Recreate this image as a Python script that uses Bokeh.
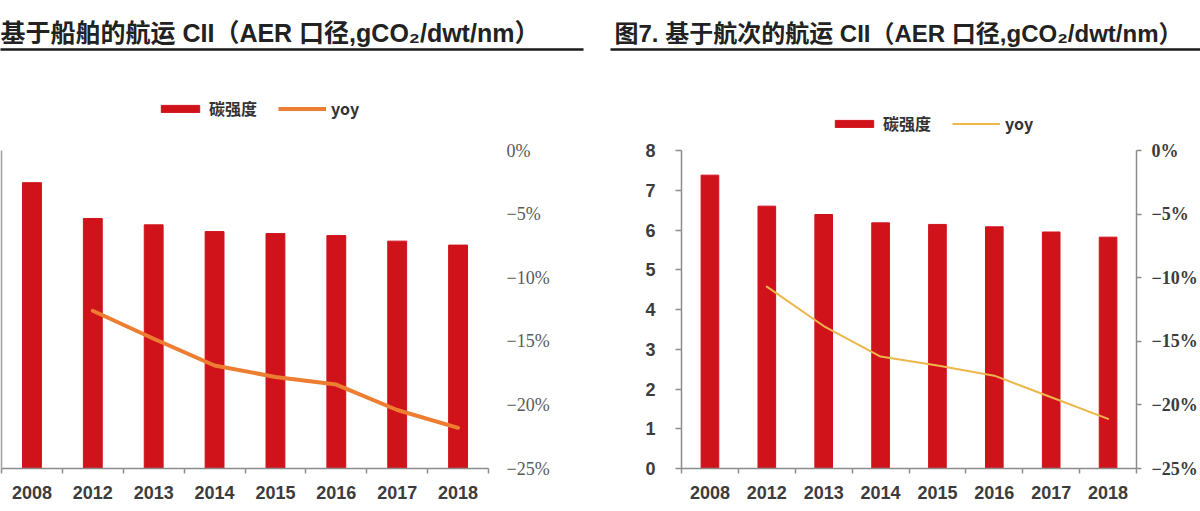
from bokeh.plotting import figure
from bokeh.models import (ColumnDataSource, Range1d, LinearAxis, FixedTicker,
                          Legend, LegendItem)
from bokeh.layouts import column, row
from bokeh.embed import file_html
from bokeh.resources import INLINE

# ---------------- data ----------------
years = ["2008", "2012", "2013", "2014", "2015", "2016", "2017", "2018"]
ship_cii = [7.19, 6.29, 6.13, 5.96, 5.91, 5.86, 5.72, 5.62]
ship_yoy = [float("nan"), -12.6, -14.8, -16.9, -17.8, -18.4, -20.4, -21.8]
voyage_cii = [7.38, 6.60, 6.39, 6.18, 6.14, 6.08, 5.95, 5.82]
voyage_yoy = [float("nan"), -10.7, -13.8, -16.2, -16.9, -17.7, -19.4, -21.1]
cii_ticks = [0, 1, 2, 3, 4, 5, 6, 7, 8]
yoy_ticks = [-25, -20, -15, -10, -5, 0]
title_left = "基于船舶的航运 CII（AER 口径,gCO₂/dwt/nm）"
title_right = "图7. 基于航次的航运 CII（AER 口径,gCO₂/dwt/nm）"
legend_bar = "碳强度"
legend_line = "yoy"

BAR_RED = "#D0121B"
ORANGE = "#ED7D31"
GOLD = "#EDB64A"
AXIS_GRAY = "#8C8C8C"
CJK = "Noto Sans CJK SC"
MIXED = "'Liberation Sans', 'Noto Sans CJK SC'"
BAR_W = 0.31

xs = list(range(len(years)))
bounds = [i - 0.5 for i in range(len(years) + 1)]
yoy_labels = {t: (f"{t}%".replace("-", "\u2212")) for t in yoy_ticks}

HEADER_H = 138
CHART_H = 373
HALF_W = 600


def header(src, text, font_size, left_border, right_border, offset, line_color,
           line_width, legend_xy):
    """Title + underline + legend. The data glyphs here sit outside the visible
    range; they only serve as legend swatches."""
    h = figure(width=HALF_W, height=HEADER_H, x_range=Range1d(0, 1),
               y_range=Range1d(100, 101),
               x_axis_type=None, y_axis_type=None, toolbar_location=None,
               output_backend="svg", outline_line_color=None,
               min_border_left=left_border, min_border_right=right_border,
               min_border_top=49, min_border_bottom=0, title=text)
    h.title.text_font = MIXED
    h.title.text_font_size = font_size
    h.title.text_font_style = "bold"
    h.title.text_color = "#222222"
    h.title.align = "left"
    h.title.offset = offset
    h.title.standoff = 6
    ax = LinearAxis(ticker=FixedTicker(ticks=[]), axis_line_color="#1A1A1A",
                    axis_line_width=2.5, major_tick_line_color=None,
                    minor_tick_line_color=None, major_tick_out=0, major_tick_in=0,
                    minor_tick_out=0, minor_tick_in=0, major_label_standoff=0)
    h.add_layout(ax, "above")

    sw_bar = h.vbar(x="x", top="cii", width=BAR_W, source=src,
                    fill_color=BAR_RED, line_color=BAR_RED)
    sw_line = h.line(x="x", y="yoy", source=src, line_color=line_color,
                     line_width=line_width)
    legend = Legend(items=[LegendItem(label=legend_bar, renderers=[sw_bar]),
                           LegendItem(label=legend_line, renderers=[sw_line])],
                    orientation="horizontal", location=legend_xy,
                    glyph_width=48, glyph_height=9, label_standoff=5, spacing=21,
                    padding=0, margin=0, border_line_color=None,
                    background_fill_alpha=0,
                    label_text_font=CJK, label_text_font_style="bold",
                    label_text_font_size="16px", label_text_color="#333333",
                    label_height=20)
    h.add_layout(legend, "center")
    return h


def chart(src, line_color, line_width, left_labels, right_style, borders):
    left_b, right_b, top_b, bottom_b = borders
    p = figure(width=HALF_W, height=CHART_H, x_range=Range1d(-0.5, len(years) - 0.5),
               y_range=Range1d(0, 8), x_axis_type=None, y_axis_type=None,
               toolbar_location=None, output_backend="svg", outline_line_color=None,
               min_border_left=left_b, min_border_right=right_b,
               min_border_top=top_b, min_border_bottom=bottom_b)
    p.extra_y_ranges = {"yoy": Range1d(-25, 0)}

    p.vbar(x="x", top="cii", width=BAR_W, source=src,
           fill_color=BAR_RED, line_color=BAR_RED)
    p.line(x="x", y="yoy", source=src, y_range_name="yoy",
           line_color=line_color, line_width=line_width, line_join="round",
           line_cap="round")

    # x axis: labels at centres, ticks between categories
    xaxis = LinearAxis(ticker=FixedTicker(ticks=xs, minor_ticks=bounds),
                       major_label_overrides={i: y for i, y in zip(xs, years)},
                       axis_line_color=AXIS_GRAY, axis_line_width=1.5,
                       major_tick_line_color=None, major_tick_out=0, major_tick_in=0,
                       minor_tick_line_color=AXIS_GRAY, minor_tick_line_width=1.5,
                       minor_tick_out=5, minor_tick_in=0,
                       major_label_standoff=12,
                       major_label_text_font="Liberation Sans",
                       major_label_text_font_style="bold",
                       major_label_text_font_size="18px",
                       major_label_text_color="#3C3C3C")
    p.add_layout(xaxis, "below")

    # left axis (carbon intensity)
    if left_labels:
        laxis = LinearAxis(ticker=FixedTicker(ticks=cii_ticks),
                           axis_line_color=AXIS_GRAY, axis_line_width=1.5,
                           major_tick_line_color=AXIS_GRAY, major_tick_line_width=1.5,
                           major_tick_out=6, major_tick_in=0,
                           minor_tick_line_color=None, major_label_standoff=20,
                           major_label_text_font="Liberation Sans",
                           major_label_text_font_style="bold",
                           major_label_text_font_size="18px",
                           major_label_text_color="#3C3C3C")
    else:
        laxis = LinearAxis(ticker=FixedTicker(ticks=[]),
                           axis_line_color="#A0A0A0", axis_line_width=1.5,
                           major_tick_line_color=None, minor_tick_line_color=None,
                           major_tick_out=0, major_tick_in=0,
                           minor_tick_out=0, minor_tick_in=0,
                           major_label_standoff=0)
    p.add_layout(laxis, "left")

    # right axis (yoy)
    if right_style == "plain":
        raxis = LinearAxis(y_range_name="yoy", ticker=FixedTicker(ticks=yoy_ticks),
                           major_label_overrides=yoy_labels,
                           axis_line_color=None, major_tick_line_color=None,
                           minor_tick_line_color=None, major_tick_out=0,
                           major_tick_in=0, major_label_standoff=18,
                           major_label_text_font="Liberation Sans Narrow",
                           major_label_text_font_size="18px",
                           major_label_text_color="#5A5A5A")
    else:
        raxis = LinearAxis(y_range_name="yoy", ticker=FixedTicker(ticks=yoy_ticks),
                           major_label_overrides=yoy_labels,
                           axis_line_color=AXIS_GRAY, axis_line_width=1.5,
                           major_tick_line_color=AXIS_GRAY, major_tick_line_width=1.5,
                           major_tick_out=5, major_tick_in=0,
                           minor_tick_line_color=None, major_label_standoff=10,
                           major_label_text_font="Liberation Sans Narrow",
                           major_label_text_font_style="bold",
                           major_label_text_font_size="18px",
                           major_label_text_color="#3C3C3C")
    p.add_layout(raxis, "right")
    return p


src_ship = ColumnDataSource(dict(x=xs, cii=ship_cii, yoy=ship_yoy))
src_voyage = ColumnDataSource(dict(x=xs, cii=voyage_cii, yoy=voyage_yoy))

h_left = header(src_ship, title_left, "25px", 0, 17, 0, ORANGE, 4, (156, 18))
h_right = header(src_voyage, title_right, "24px", 10, 0, 4, GOLD, 2, (220, 3))

f_left = chart(src_ship, ORANGE, 4, False, "plain", (1, 112, 12, 43))
f_right = chart(src_voyage, GOLD, 2, True, "boxed", (81, 37, 12, 43))

layout = column(row(h_left, h_right), row(f_left, f_right))

open("out.html", "w").write(file_html(layout, INLINE))
